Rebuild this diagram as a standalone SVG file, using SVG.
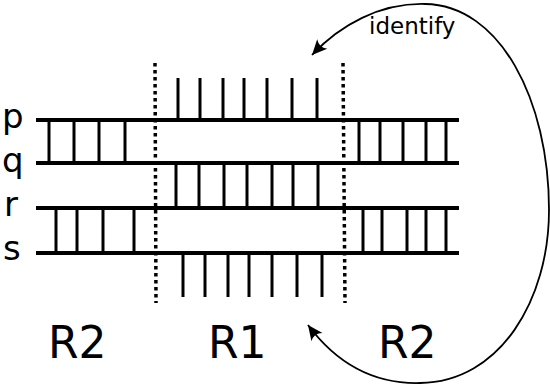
<svg xmlns="http://www.w3.org/2000/svg" width="550" height="390" viewBox="0 0 550 390">
  <style>
    .strand { stroke: #000; stroke-width: 4; fill: none; }
    .rung { stroke: #000; stroke-width: 3; fill: none; }
    .div { stroke: #000; stroke-width: 3.5; stroke-dasharray: 3.5 3.5; fill: none; }
    .lbl { font-family: "DejaVu Sans", "Liberation Sans", sans-serif; fill: #000; }
    .conn { stroke: #000; stroke-width: 1.8; fill: none; }
  </style>
  <defs>
    <marker id="arr" markerUnits="userSpaceOnUse" markerWidth="20" markerHeight="20" viewBox="-14 -8 16 16" refX="0" refY="0" orient="auto-start-reverse">
      <path d="M0,0 L-12,-5.5 Q-8,0 -12,5.5 Z" fill="#000"/>
    </marker>
  </defs>
  <rect width="550" height="390" fill="#fff"/>

  <g id="strands">
    <line class="strand" x1="36" y1="120" x2="459" y2="120"/>
    <line class="strand" x1="36" y1="163" x2="459" y2="163"/>
    <line class="strand" x1="36" y1="208" x2="459" y2="208"/>
    <line class="strand" x1="36" y1="253" x2="459" y2="253"/>
  </g>

  <g id="left-region">
    <path class="rung" d="M49,120V163M74,120V163M99,120V163M125,120V163"/>
    <path class="rung" d="M56,208V253M77,208V253M103,208V253M134,208V253"/>
  </g>

  <g id="middle-region">
    <path class="rung" d="M178,78V120M200,78V120M223,78V120M244,78V120M267,78V120M292,78V120M317,78V120"/>
    <path class="rung" d="M176,163V208M199,163V208M224,163V208M247,163V208M272,163V208M293,163V208M318,163V208"/>
    <path class="rung" d="M183,253V297M205,253V297M228,253V297M249,253V297M272,253V297M297,253V297M322,253V297"/>
  </g>

  <g id="right-region">
    <path class="rung" d="M359,120V163M380,120V163M403,120V163M426,120V163M446,120V163"/>
    <path class="rung" d="M363,208V253M382,208V253M407,208V253M426,208V253M446,208V253"/>
  </g>

  <g id="dividers">
    <line class="div" x1="155" y1="63" x2="156" y2="303"/>
    <line class="div" x1="343" y1="63" x2="345" y2="303"/>
  </g>

  <g id="strand-labels">
    <text class="lbl" x="2" y="128" font-size="34">p</text>
    <text class="lbl" x="2" y="172" font-size="34">q</text>
    <text class="lbl" x="4" y="216" font-size="34">r</text>
    <text class="lbl" x="3" y="260" font-size="34">s</text>
  </g>

  <g id="region-labels">
    <text class="lbl" x="48" y="358" font-size="44">R2</text>
    <text class="lbl" x="208" y="358" font-size="44">R1</text>
    <text class="lbl" x="378" y="358" font-size="44">R2</text>
  </g>

  <g id="connectors">
    <path class="conn" d="M308,325 C340,368 380,384 420,383 C500,382 549,300 549,210 C549,100 500,5 425,4 C380,3 340,25 312,55" marker-start="url(#arr)" marker-end="url(#arr)"/>
    <text class="lbl" x="369" y="34" font-size="23">identify</text>
  </g>
</svg>
